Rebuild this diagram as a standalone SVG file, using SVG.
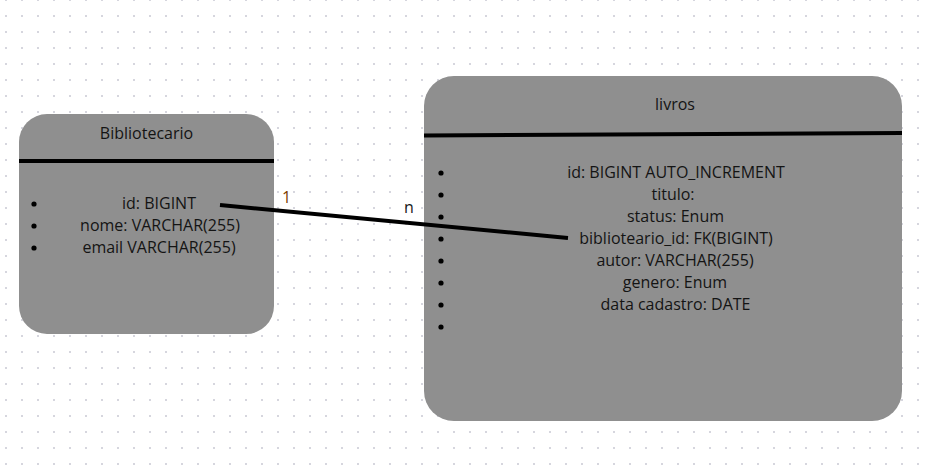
<svg xmlns="http://www.w3.org/2000/svg" width="931" height="467" viewBox="0 0 931 467">
<defs>
<pattern id="grid" x="5" y="-1" width="16" height="16" patternUnits="userSpaceOnUse">
<rect x="0" y="0" width="2" height="2" fill="#d6d6de"/>
</pattern>
<style>
.box{fill:#8f8f8f;stroke:none}
.sep{stroke:#000;stroke-width:4}
.t{font-family:"Open Sans","Liberation Sans",sans-serif;font-size:16px;fill:#141414;text-anchor:middle}
.b{fill:#000}
.conn{stroke:#000;stroke-width:4;fill:none}
.lbl{font-family:"Open Sans","Liberation Sans",sans-serif;font-size:16px}
</style>
</defs>
<rect width="931" height="467" fill="#fff"/>
<rect width="931" height="467" fill="url(#grid)"/>

<g id="bibliotecario">
<rect class="box" x="19" y="114" width="255" height="220" rx="28" ry="28"/>
<line class="sep" x1="19" y1="161" x2="274" y2="161"/>
<text class="t" x="146.5" y="139">Bibliotecario</text>
<circle class="b" cx="34" cy="204" r="2.6"/>
<circle class="b" cx="34" cy="226" r="2.6"/>
<circle class="b" cx="34" cy="248" r="2.6"/>
<text class="t" x="159" y="209">id: BIGINT</text>
<text class="t" x="160" y="231">nome: VARCHAR(255)</text>
<text class="t" x="159" y="253">email VARCHAR(255)</text>
</g>

<g id="livros">
<rect class="box" x="424" y="76" width="478" height="345" rx="30" ry="30"/>
<line class="sep" x1="424" y1="135.5" x2="902" y2="133"/>
<text class="t" x="675" y="110">livros</text>
<circle class="b" cx="441" cy="173" r="2.6"/>
<circle class="b" cx="441" cy="195" r="2.6"/>
<circle class="b" cx="441" cy="217" r="2.6"/>
<circle class="b" cx="441" cy="239" r="2.6"/>
<circle class="b" cx="441" cy="261" r="2.6"/>
<circle class="b" cx="441" cy="283" r="2.6"/>
<circle class="b" cx="441" cy="305" r="2.6"/>
<circle class="b" cx="441" cy="327" r="2.6"/>
<text class="t" x="676" y="178">id: BIGINT AUTO_INCREMENT</text>
<text class="t" x="673" y="200">titulo:</text>
<text class="t" x="675.5" y="222">status: Enum</text>
<text class="t" x="676" y="244">biblioteario_id: FK(BIGINT)</text>
<text class="t" x="675" y="266">autor: VARCHAR(255)</text>
<text class="t" x="675" y="288">genero: Enum</text>
<text class="t" x="675.5" y="310">data cadastro: DATE</text>
</g>

<g id="connectors">
<line class="conn" x1="220" y1="205" x2="568" y2="238"/>
<text class="lbl" x="282" y="203" fill="#7a3c00">1</text>
<text class="lbl" x="404" y="213" fill="#1a1a1a">n</text>
</g>
</svg>
